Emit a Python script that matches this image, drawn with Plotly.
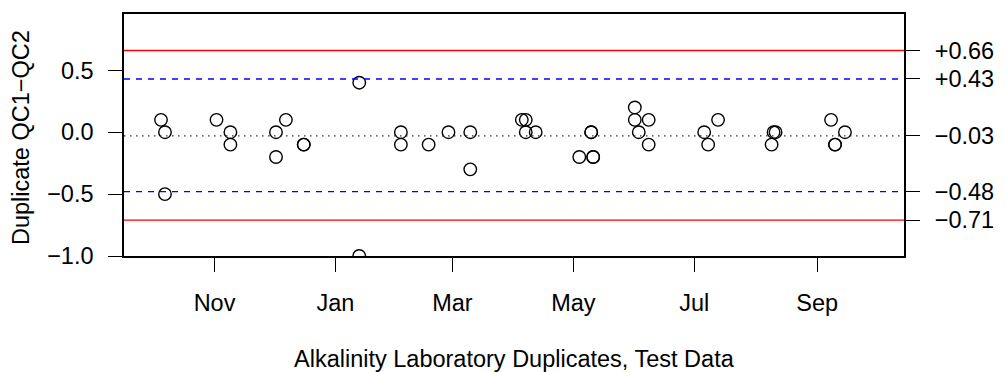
import plotly.graph_objects as go

# ---- data ----
dates = ["2010-10-05", "2010-10-07", "2010-10-07", "2010-11-02", "2010-11-09", "2010-11-09",
         "2010-12-02", "2010-12-02", "2010-12-07", "2010-12-16", "2010-12-16",
         "2011-01-13", "2011-01-13", "2011-02-03", "2011-02-03", "2011-02-17", "2011-02-27",
         "2011-03-10", "2011-03-10", "2011-04-05", "2011-04-07", "2011-04-07", "2011-04-12",
         "2011-05-04", "2011-05-10", "2011-05-10", "2011-05-11", "2011-05-11",
         "2011-06-01", "2011-06-01", "2011-06-03", "2011-06-08", "2011-06-08",
         "2011-07-06", "2011-07-08", "2011-07-13", "2011-08-09", "2011-08-10", "2011-08-11",
         "2011-09-08", "2011-09-10", "2011-09-10", "2011-09-15"]
diffs = [0.1, 0.0, -0.5, 0.1, 0.0, -0.1,
         0.0, -0.2, 0.1, -0.1, -0.1,
         0.4, -1.0, 0.0, -0.1, -0.1, 0.0,
         0.0, -0.3, 0.1, 0.1, 0.0, 0.0,
         -0.2, 0.0, 0.0, -0.2, -0.2,
         0.2, 0.1, 0.0, 0.1, -0.1,
         0.0, -0.1, 0.1, -0.1, 0.0, 0.0,
         0.1, -0.1, -0.1, 0.0]

month_ticks = ["2010-11-01", "2011-01-01", "2011-03-01", "2011-05-01", "2011-07-01", "2011-09-01"]
month_labels = ["Nov", "Jan", "Mar", "May", "Jul", "Sep"]

left_ticks = [-1.0, -0.5, 0.0, 0.5]
left_labels = ["\u22121.0", "\u22120.5", "0.0", "0.5"]

mean_line = -0.03
warn_lines = [0.43, -0.48]
ctrl_lines = [0.66, -0.71]
right_ticks = [0.66, 0.43, -0.03, -0.48, -0.71]
right_labels = ["+0.66", "+0.43", "\u22120.03", "\u22120.48", "\u22120.71"]

x_range = ["2010-09-16 08:00", "2011-10-14 19:00"]
y_range = [-1.0, 0.955]

FONT = "Liberation Sans, Arial, Helvetica, sans-serif"
FS = 23.5

fig = go.Figure()

fig.add_trace(go.Scatter(
    x=dates, y=diffs, mode="markers",
    marker=dict(symbol="circle-open", size=12.5, color="black", line=dict(width=1.4, color="black")),
    showlegend=False, cliponaxis=True, hoverinfo="x+y"))

# invisible trace for the right axis
fig.add_trace(go.Scatter(x=[dates[0]], y=[0], yaxis="y2", mode="markers",
                         marker=dict(opacity=0), showlegend=False, hoverinfo="skip"))

shapes = []
for v in ctrl_lines:
    shapes.append(dict(type="line", xref="paper", x0=0, x1=1, yref="y", y0=v, y1=v,
                       line=dict(color="#FF0000", width=1.3)))
for v in warn_lines:
    shapes.append(dict(type="line", xref="paper", x0=0, x1=1, yref="y", y0=v, y1=v,
                       line=dict(color="#0000FF", width=1.3, dash="6px,6px")))
shapes.append(dict(type="line", xref="paper", x0=0, x1=1, yref="y", y0=mean_line, y1=mean_line,
                   line=dict(color="#333333", width=1.3, dash="1.5px,4.5px")))

H_PLOT = 372 - 12 - 116

fig.update_layout(
    width=1006, height=372,
    margin=dict(l=124, r=94, t=12, b=116, pad=0),
    paper_bgcolor="white", plot_bgcolor="white",
    font=dict(family=FONT, size=FS, color="black"),
    shapes=shapes,
    xaxis=dict(type="date", range=x_range, tickvals=month_ticks, ticktext=month_labels,
               ticks="outside", ticklen=14, tickwidth=1.3, tickcolor="black",
               showline=True, linecolor="black", linewidth=1.5, mirror=True,
               showgrid=False, zeroline=False, ticklabelstandoff=11,
               tickfont=dict(family=FONT, size=FS)),
    yaxis=dict(range=y_range, tickvals=left_ticks, ticktext=left_labels,
               ticks="outside", ticklen=14, tickwidth=1.3, tickcolor="black",
               showline=True, linecolor="black", linewidth=1.5, mirror=True,
               showgrid=False, zeroline=False, ticklabelstandoff=10,
               tickfont=dict(family=FONT, size=FS)),
    yaxis2=dict(range=y_range, overlaying="y", side="right", tickvals=right_ticks,
                ticktext=right_labels, ticks="outside", ticklen=15, tickwidth=1.3,
                tickcolor="black", showline=False, showgrid=False, zeroline=False,
                ticklabelstandoff=10, tickfont=dict(family=FONT, size=FS)),
    annotations=[
        dict(text="Alkalinity Laboratory Duplicates, Test Data", xref="paper", yref="paper",
             x=0.5, y=(256 - 360) / H_PLOT, xanchor="center", yanchor="middle", showarrow=False,
             font=dict(family=FONT, size=FS)),
        dict(text="Duplicate QC1\u2212QC2", xref="paper", yref="paper",
             x=(20 - 124) / 788, y=(256 - 137) / H_PLOT, xanchor="center", yanchor="middle",
             textangle=-90, showarrow=False, font=dict(family=FONT, size=FS)),
    ],
)

fig.write_html("out.html", config={"displayModeBar": False},
               post_script="document.body.style.margin='0';document.body.style.overflow='hidden';")
